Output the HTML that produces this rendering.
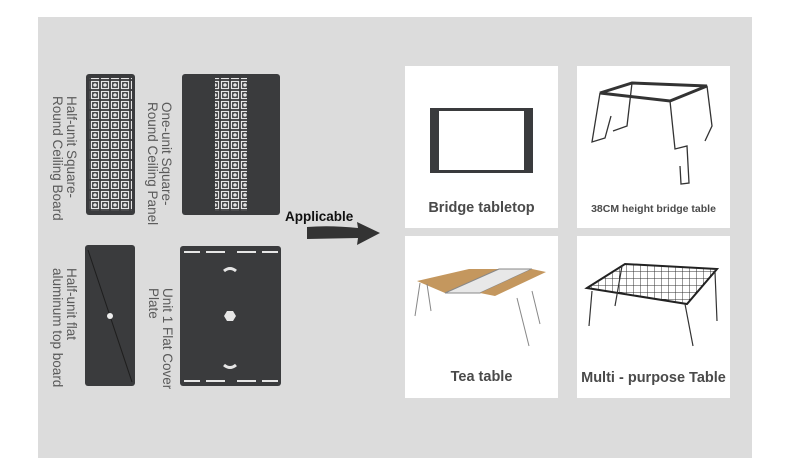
<!DOCTYPE html>
<html><head><meta charset="utf-8"><style>
html,body{margin:0;padding:0;background:#fff;}
body{width:790px;height:458px;position:relative;overflow:hidden;font-family:"Liberation Sans",sans-serif;}
.panel{position:absolute;left:38px;top:17px;width:714px;height:441px;background:#dcdcdc;}
.card{position:absolute;background:#fff;width:153px;height:162px;}
.lbl{position:absolute;left:0;right:0;text-align:center;color:#4a4a4a;font-weight:bold;}
.vt{position:absolute;writing-mode:vertical-rl;color:#5a5a5a;font-size:13.5px;line-height:14px;white-space:nowrap;}
</style></head><body>
<div class="panel"></div>
<svg width="790" height="458" style="position:absolute;left:0;top:0">
<defs>
<pattern id="pat" x="0" y="0" width="10" height="10" patternUnits="userSpaceOnUse">
<rect width="10" height="10" fill="#3a3b3d"/>
<rect x="1.5" y="1.5" width="7" height="7" fill="none" stroke="#e6e6e6" stroke-width="1.2"/>
<circle cx="5" cy="5" r="1.8" fill="#e6e6e6"/>
</pattern>
</defs>
<rect x="86" y="74" width="49" height="141" rx="3" fill="#3a3b3d"/>
<rect x="89" y="78" width="43" height="133" fill="url(#pat)"/>
<rect x="182" y="74" width="98" height="141" rx="3" fill="#3a3b3d"/>
<rect x="215" y="78" width="32" height="133" fill="url(#pat)"/>
<rect x="85" y="245" width="50" height="141" rx="3" fill="#3a3b3d"/>
<line x1="88" y1="250" x2="132" y2="382" stroke="#1e1e1e" stroke-width="1"/>
<circle cx="110" cy="316" r="3" fill="#eee"/>
<rect x="180" y="246" width="101" height="140" rx="3" fill="#3a3b3d"/>
<g stroke="#e6e6e6" stroke-width="2">
<line x1="184" y1="252" x2="200" y2="252"/><line x1="206" y1="252" x2="225" y2="252"/><line x1="237" y1="252" x2="256" y2="252"/><line x1="262" y1="252" x2="278" y2="252"/>
<line x1="184" y1="381" x2="200" y2="381"/><line x1="206" y1="381" x2="225" y2="381"/><line x1="237" y1="381" x2="256" y2="381"/><line x1="262" y1="381" x2="278" y2="381"/>
</g>
<path d="M224 271 Q230 266 236 271" stroke="#e6e6e6" stroke-width="3" fill="none"/>
<path d="M224 365 Q230 370 236 365" stroke="#e6e6e6" stroke-width="3" fill="none"/>
<polygon points="227,311 233,311 236,316 233,321 227,321 224,316" fill="#e6e6e6"/>
<text x="285" y="221" font-family="Liberation Sans" font-weight="bold" font-size="13.5" fill="#111">Applicable</text>
<path d="M307 227 Q330 225 358 228 L357 222 L380 233 L357 245 L358 238 L307 239 Z" fill="#333"/>
</svg>
<div class="vt" style="left:50px;top:96px;">Half-unit Square-<br>Round Ceiling Board</div>
<div class="vt" style="left:145px;top:102px;">One-unit Square-<br>Round Ceiling Panel</div>
<div class="vt" style="left:50px;top:268px;">Half-unit flat<br>aluminum top board</div>
<div class="vt" style="left:146px;top:288px;">Unit 1 Flat Cover<br>Plate</div>

<div class="card" style="left:405px;top:66px;">
<svg width="153" height="162" style="position:absolute;left:0;top:0">
<rect x="25" y="42" width="103" height="65" fill="#3a3b3d"/>
<rect x="34" y="45" width="85" height="59" fill="#fff"/>
</svg>
<div class="lbl" style="top:134px;font-size:14.5px;">Bridge tabletop</div></div>
<div class="card" style="left:577px;top:66px;">
<svg width="153" height="162" style="position:absolute;left:0;top:0" fill="none" stroke="#333" stroke-width="1.3">
<polygon points="23,27 55,17 130,20 93,35" stroke-width="3"/>
<path d="M23,27 L15,76 L28,72 L34,50 M55,17 L50,60 L36,65 M93,35 L98,83 L110,80 L112,117 L104,118 L103,100 M130,20 L135,60 L128,75"/>
</svg>
<div class="lbl" style="top:137px;font-size:10.5px;">38CM height bridge table</div></div>
<div class="card" style="left:405px;top:236px;">
<svg width="153" height="162" style="position:absolute;left:0;top:0">
<polygon points="12,45 64,33 94,33 40,57" fill="#c4975e"/>
<polygon points="94,33 127,33 75,57 40,57" fill="#e8e8e8" stroke="#888"/>
<polygon points="75,57 127,33 141,36 90,60" fill="#c4975e"/>
<g stroke="#888" fill="none"><path d="M15,47 L10,80 M22,48 L26,75 M112,62 L124,110 M127,55 L135,88"/></g>
</svg>
<div class="lbl" style="top:133px;font-size:14.5px;">Tea table</div></div>
<div class="card" style="left:577px;top:236px;">
<svg width="153" height="162" style="position:absolute;left:0;top:0">
<defs><pattern id="g" width="7" height="7" patternUnits="userSpaceOnUse"><path d="M0 0H7M0 0V7" stroke="#333" stroke-width="1" fill="none"/></pattern></defs>
<polygon points="10,52 48,28 140,33 110,68" fill="url(#g)" stroke="#222" stroke-width="2"/>
<g stroke="#333" fill="none" stroke-width="1.2"><path d="M15,55 L12,90 M108,68 L116,110 M138,36 L140,85 M45,30 L38,70"/></g>
</svg>
<div class="lbl" style="top:134px;font-size:14.5px;">Multi - purpose Table</div></div>
</body></html>
